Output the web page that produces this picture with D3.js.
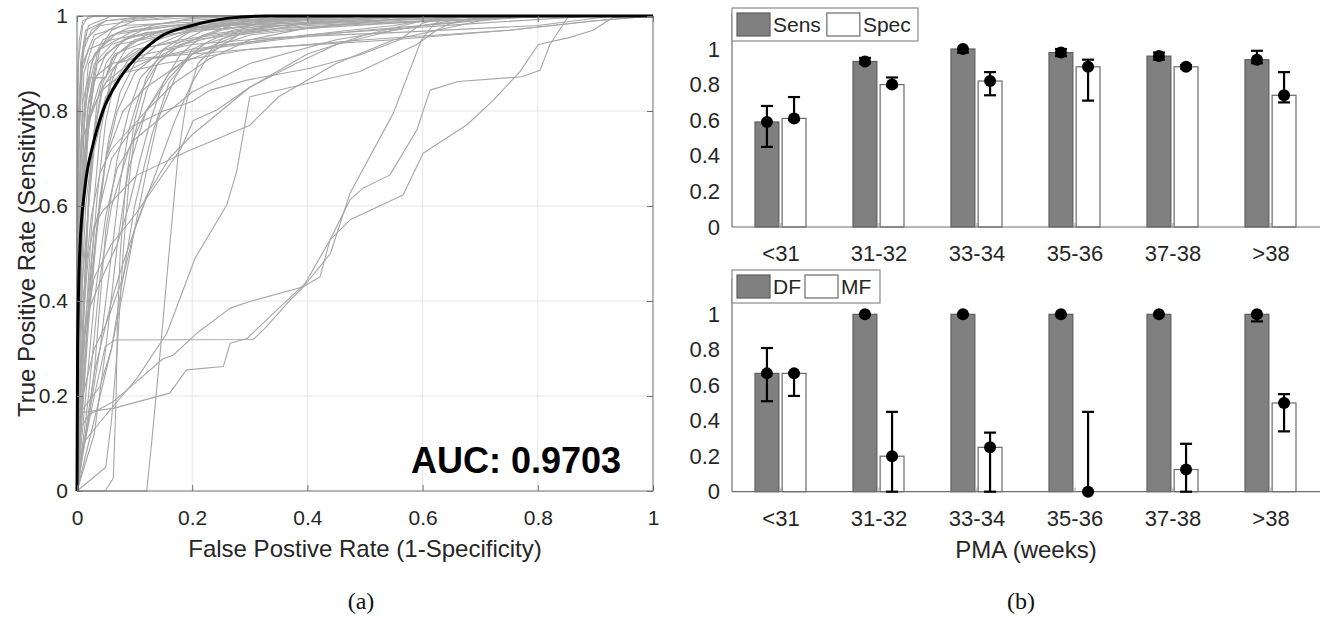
<!DOCTYPE html>
<html><head><meta charset="utf-8">
<script src="https://cdn.jsdelivr.net/npm/d3@7"></script>
<style>
body{margin:0;background:#fff;}
svg{display:block;font-family:"Liberation Sans",Arial,Helvetica,sans-serif;}
</style></head><body>
<svg id="fig" width="1326" height="618"></svg>
<script>
// ---------- ROC panel data ----------
const rocTicks = [0, 0.2, 0.4, 0.6, 0.8, 1];
const aucLabel = "AUC: 0.9703";

// averaged ROC curve [FPR, TPR]
const meanRoc = [[0,0],[0.001,0.3],[0.005,0.51],[0.014,0.64],[0.028,0.73],[0.045,0.8],[0.075,0.87],[0.104,0.914],[0.144,0.956],[0.2,0.98],[0.26,0.995],[0.33,1],[1,1]];

// individual recording ROC curves [FPR, TPR]
const rocCurves = [
  [[0,0],[0,0.55],[0.004,0.8],[0.01,0.93],[0.02,0.98],[0.06,1],[1,1]],
  [[0,0],[0,0.35],[0.006,0.7],[0.012,0.88],[0.03,0.95],[0.08,0.99],[0.15,1],[1,1]],
  [[0,0],[0.002,0.5],[0.008,0.75],[0.02,0.9],[0.06,0.96],[0.2,0.985],[0.45,1],[1,1]],
  [[0,0],[0,0.2],[0.01,0.55],[0.02,0.78],[0.035,0.9],[0.07,0.94],[0.2,0.97],[0.5,0.99],[0.7,1],[1,1]],
  [[0,0],[0.003,0.3],[0.012,0.62],[0.025,0.85],[0.04,0.93],[0.1,0.97],[0.25,0.99],[0.4,1],[1,1]],
  [[0,0],[0.005,0.4],[0.015,0.72],[0.03,0.87],[0.05,0.87],[0.065,0.92],[0.15,0.96],[0.3,0.98],[0.6,1],[1,1]],
  [[0,0],[0.01,0.25],[0.025,0.55],[0.04,0.75],[0.06,0.88],[0.09,0.94],[0.15,0.97],[0.3,0.99],[0.5,1],[1,1]],
  [[0,0],[0.002,0.6],[0.006,0.9],[0.015,0.97],[0.05,0.99],[0.12,1],[1,1]],
  [[0,0],[0.015,0.3],[0.03,0.5],[0.05,0.7],[0.07,0.8],[0.1,0.88],[0.15,0.93],[0.25,0.96],[0.4,0.98],[0.6,0.99],[0.85,1],[1,1]],
  [[0,0],[0.02,0.2],[0.04,0.45],[0.06,0.6],[0.09,0.72],[0.12,0.8],[0.16,0.87],[0.2,0.92],[0.3,0.96],[0.45,0.98],[0.6,1],[1,1]],
  [[0,0],[0.004,0.45],[0.01,0.68],[0.025,0.8],[0.05,0.86],[0.09,0.9],[0.2,0.93],[0.4,0.96],[0.7,0.985],[0.9,1],[1,1]],
  [[0,0],[0.008,0.15],[0.02,0.4],[0.035,0.62],[0.05,0.78],[0.065,0.86],[0.09,0.91],[0.14,0.95],[0.22,0.98],[0.32,1],[1,1]],
  [[0,0],[0.03,0.12],[0.05,0.3],[0.07,0.52],[0.09,0.68],[0.12,0.8],[0.16,0.88],[0.22,0.94],[0.3,0.97],[0.42,0.99],[0.55,1],[1,1]],
  [[0,0],[0.001,0.4],[0.004,0.65],[0.01,0.82],[0.03,0.92],[0.07,0.965],[0.15,0.98],[0.35,0.99],[0.62,1],[1,1]],
  [[0,0],[0.005,0.55],[0.012,0.75],[0.04,0.84],[0.08,0.88],[0.15,0.9],[0.3,0.93],[0.5,0.95],[0.75,0.97],[0.9,0.99],[1,1]],
  [[0,0],[0.01,0.35],[0.02,0.5],[0.03,0.56],[0.045,0.59],[0.104,0.665],[0.19,0.714],[0.3,0.77],[0.35,0.83],[0.45,0.9],[0.55,0.95],[0.7,0.99],[0.8,1],[1,1]],
  [[0,0],[0.02,0.1],[0.04,0.2],[0.06,0.3],[0.08,0.45],[0.1,0.6],[0.13,0.75],[0.16,0.86],[0.2,0.92],[0.28,0.96],[0.4,0.985],[0.6,1],[1,1]],
  [[0,0],[0,0.6],[0.003,0.8],[0.008,0.9],[0.015,0.95],[0.04,0.98],[0.1,0.99],[0.25,1],[1,1]],
  [[0,0],[0.01,0.45],[0.02,0.6],[0.03,0.72],[0.05,0.82],[0.07,0.9],[0.1,0.93],[0.2,0.95],[0.35,0.97],[0.55,0.985],[0.8,1],[1,1]],
  [[0,0],[0.006,0.18],[0.012,0.4],[0.02,0.62],[0.03,0.76],[0.045,0.86],[0.07,0.92],[0.12,0.96],[0.2,0.985],[0.28,1],[1,1]],
  [[0,0],[0.03,0.25],[0.06,0.4],[0.08,0.48],[0.1,0.55],[0.14,0.68],[0.17,0.78],[0.2,0.86],[0.23,0.92],[0.28,0.96],[0.36,0.99],[0.45,1],[1,1]],
  [[0,0],[0.121,0],[0.13,0.107],[0.145,0.3],[0.161,0.518],[0.175,0.7],[0.19,0.82],[0.21,0.9],[0.25,0.95],[0.3,0.98],[0.36,1],[1,1]],
  [[0,0],[0.049,0],[0.063,0.027],[0.068,0.2],[0.07,0.35],[0.075,0.5],[0.085,0.65],[0.1,0.78],[0.12,0.87],[0.15,0.93],[0.2,0.97],[0.3,0.99],[0.4,1],[1,1]],
  [[0,0],[0.01,0.08],[0.03,0.2],[0.049,0.304],[0.066,0.318],[0.306,0.319],[0.329,0.346],[0.37,0.402],[0.393,0.43],[0.422,0.451],[0.439,0.528],[0.474,0.613],[0.497,0.638],[0.543,0.665],[0.59,0.76],[0.613,0.844],[0.662,0.862],[0.772,0.872],[0.804,0.886],[0.821,0.94],[0.853,0.999],[1,1]],
  [[0,0],[0,0.164],[0.063,0.174],[0.161,0.206],[0.19,0.255],[0.254,0.262],[0.266,0.311],[0.295,0.321],[0.341,0.374],[0.396,0.437],[0.439,0.528],[0.474,0.571],[0.566,0.623],[0.601,0.711],[0.677,0.771],[0.723,0.823],[0.769,0.883],[0.801,0.94],[0.856,0.955],[0.896,0.97],[0.93,0.997],[1,1]],
  [[0,0],[0.005,0.13],[0.02,0.16],[0.063,0.188],[0.15,0.279],[0.167,0.286],[0.208,0.332],[0.266,0.385],[0.3,0.399],[0.393,0.43],[0.44,0.5],[0.474,0.627],[0.549,0.795],[0.598,0.95],[0.618,0.98],[0.636,0.996],[1,1]],
  [[0,0],[0.01,0.1],[0.05,0.16],[0.104,0.237],[0.156,0.332],[0.205,0.49],[0.26,0.602],[0.277,0.672],[0.3,0.83],[0.491,0.883],[0.59,0.94],[0.624,0.97],[0.648,0.984],[0.7,1],[1,1]],
  [[0,0],[0.01,0.3],[0.03,0.55],[0.06,0.7],[0.1,0.77],[0.15,0.8],[0.2,0.82],[0.231,0.844],[0.295,0.865],[0.405,0.89],[0.491,0.918],[0.56,0.95],[0.6,0.985],[0.65,1],[1,1]],
  [[0,0],[0.005,0.2],[0.015,0.35],[0.03,0.45],[0.06,0.52],[0.1,0.58],[0.14,0.65],[0.18,0.72],[0.202,0.78],[0.243,0.802],[0.3,0.85],[0.4,0.92],[0.5,0.96],[0.6,0.99],[0.7,1],[1,1]],
  [[0,0],[0.002,0.7],[0.008,0.88],[0.02,0.93],[0.06,0.95],[0.15,0.97],[0.3,0.985],[0.5,1],[1,1]],
  [[0,0],[0,0.8],[0.004,0.95],[0.01,0.99],[0.03,1],[1,1]],
  [[0,0],[0.001,0.3],[0.003,0.55],[0.008,0.72],[0.015,0.82],[0.03,0.9],[0.06,0.94],[0.12,0.965],[0.25,0.98],[0.5,0.99],[0.75,1],[1,1]],
  [[0,0],[0.015,0.5],[0.025,0.7],[0.035,0.82],[0.05,0.9],[0.08,0.95],[0.13,0.98],[0.2,0.995],[0.3,1],[1,1]],
  [[0,0],[0.02,0.35],[0.035,0.55],[0.05,0.7],[0.08,0.8],[0.12,0.85],[0.18,0.9],[0.26,0.94],[0.4,0.96],[0.55,0.98],[0.65,1],[1,1]],
  [[0,0],[0.001,0.15],[0.004,0.42],[0.008,0.65],[0.014,0.8],[0.025,0.9],[0.045,0.95],[0.09,0.975],[0.18,0.99],[0.35,1],[1,1]],
  [[0,0],[0.004,0.1],[0.012,0.25],[0.025,0.45],[0.04,0.62],[0.055,0.74],[0.075,0.84],[0.1,0.9],[0.14,0.94],[0.2,0.97],[0.33,0.99],[0.5,1],[1,1]],
  [[0,0],[0.008,0.6],[0.02,0.78],[0.04,0.86],[0.07,0.9],[0.12,0.92],[0.2,0.94],[0.35,0.955],[0.55,0.965],[0.8,0.98],[0.93,1],[1,1]],
  [[0,0],[0.003,0.5],[0.007,0.7],[0.015,0.8],[0.02,0.87],[0.05,0.87],[0.06,0.91],[0.1,0.95],[0.18,0.97],[0.3,0.99],[0.45,1],[1,1]],
  [[0,0],[0.01,0.2],[0.03,0.3],[0.05,0.35],[0.08,0.45],[0.1,0.55],[0.12,0.62],[0.16,0.7],[0.2,0.75],[0.25,0.8],[0.3,0.85],[0.38,0.9],[0.45,0.94],[0.55,0.97],[0.65,0.99],[0.75,1],[1,1]],
  [[0,0],[0.006,0.35],[0.015,0.6],[0.03,0.75],[0.05,0.83],[0.08,0.88],[0.13,0.91],[0.22,0.93],[0.35,0.95],[0.5,0.97],[0.65,0.985],[0.78,1],[1,1]],
  [[0,0],[0.002,0.25],[0.006,0.5],[0.012,0.7],[0.02,0.82],[0.035,0.92],[0.06,0.97],[0.1,0.99],[0.18,1],[1,1]],
  [[0,0],[0.04,0.3],[0.06,0.5],[0.075,0.65],[0.09,0.76],[0.11,0.84],[0.14,0.9],[0.18,0.94],[0.25,0.97],[0.35,0.99],[0.42,1],[1,1]],
  [[0,0],[0.005,0.05],[0.02,0.15],[0.03,0.25],[0.04,0.4],[0.05,0.55],[0.07,0.7],[0.09,0.8],[0.11,0.87],[0.15,0.92],[0.22,0.96],[0.35,0.98],[0.55,0.99],[0.7,1],[1,1]],
  [[0,0],[0.001,0.65],[0.005,0.85],[0.012,0.93],[0.025,0.97],[0.05,0.99],[0.15,1],[1,1]],
  [[0,0],[0.012,0.42],[0.025,0.58],[0.04,0.67],[0.06,0.72],[0.09,0.76],[0.12,0.8],[0.17,0.86],[0.23,0.91],[0.3,0.95],[0.4,0.975],[0.52,0.99],[0.62,1],[1,1]],
  [[0,0],[0.002,0.9],[0.01,0.98],[0.02,1],[1,1]],
  [[0,0],[0.003,0.2],[0.01,0.3],[0.02,0.38],[0.04,0.44],[0.07,0.52],[0.09,0.6],[0.11,0.7],[0.13,0.79],[0.15,0.86],[0.18,0.92],[0.22,0.96],[0.28,0.985],[0.34,1],[1,1]],
  [[0,0],[0.02,0.6],[0.03,0.75],[0.045,0.85],[0.07,0.9],[0.11,0.93],[0.18,0.95],[0.3,0.97],[0.45,0.98],[0.62,0.99],[0.82,1],[1,1]],
  [[0,0],[0.001,0.5],[0.004,0.75],[0.01,0.9],[0.03,0.96],[0.08,0.98],[0.25,0.99],[0.5,1],[1,1]],
  [[0,0],[0.05,0.05],[0.06,0.15],[0.07,0.3],[0.08,0.5],[0.09,0.65],[0.1,0.75],[0.12,0.84],[0.14,0.9],[0.17,0.94],[0.22,0.97],[0.3,0.99],[0.38,1],[1,1]],
  [[0,0],[0.003,0.16],[0.015,0.18],[0.04,0.22],[0.06,0.3],[0.08,0.42],[0.1,0.55],[0.12,0.67],[0.14,0.78],[0.17,0.87],[0.2,0.93],[0.27,0.97],[0.38,0.99],[0.5,1],[1,1]],
  [[0,0],[0.01,0.6],[0.018,0.8],[0.03,0.87],[0.06,0.9],[0.1,0.91],[0.2,0.92],[0.35,0.935],[0.55,0.95],[0.75,0.97],[0.9,0.99],[1,1]],
  [[0,0],[0.03,0.4],[0.05,0.58],[0.07,0.68],[0.1,0.74],[0.15,0.79],[0.2,0.84],[0.3,0.9],[0.45,0.95],[0.6,0.98],[0.75,1],[1,1]],
  [[0,0],[0.002,0.35],[0.008,0.6],[0.016,0.76],[0.03,0.86],[0.05,0.92],[0.09,0.955],[0.2,0.975],[0.4,0.99],[0.6,1],[1,1]]
];

// ---------- PMA bar panels data ----------
const pmaGroups = ["<31", "31-32", "33-34", "35-36", "37-38", ">38"];
const barTicks = [0, 0.2, 0.4, 0.6, 0.8, 1];

const sensValue = [0.59, 0.93, 1.00, 0.98, 0.96, 0.94];
const sensLow   = [0.45, 0.92, 0.98, 0.96, 0.94, 0.92];
const sensHigh  = [0.68, 0.95, 1.00, 1.00, 0.98, 0.99];
const specValue = [0.61, 0.80, 0.82, 0.90, 0.90, 0.74];
const specLow   = [0.60, 0.79, 0.74, 0.71, 0.89, 0.70];
const specHigh  = [0.73, 0.84, 0.87, 0.94, 0.91, 0.87];

const dfValue = [0.667, 1, 1, 1, 1, 1];
const dfLow   = [0.51, 1, 1, 1, 1, 0.96];
const dfHigh  = [0.81, 1, 1, 1, 1, 1];
const mfValue = [0.667, 0.2, 0.25, 0, 0.125, 0.5];
const mfLow   = [0.54, 0, 0, 0, 0, 0.34];
const mfHigh  = [0.667, 0.45, 0.333, 0.45, 0.27, 0.55];

// ---------- drawing ----------
const svg = d3.select("#fig");
const textCol = "#262626";
const axisCol = "#6f6f6f";
const fmt = d => String(+d.toFixed(1));

// ===== (a) ROC panel =====
const rx = d3.scaleLinear().domain([0, 1]).range([77, 653]);
const ry = d3.scaleLinear().domain([0, 1]).range([491, 16]);
const gA = svg.append("g");

gA.append("g").selectAll("line").data(rocTicks.slice(1, -1)).join("line")
  .attr("x1", d => rx(d)).attr("x2", d => rx(d)).attr("y1", ry(0)).attr("y2", ry(1))
  .attr("stroke", "#e6e6e6").attr("stroke-width", 1);
gA.append("g").selectAll("line").data(rocTicks.slice(1, -1)).join("line")
  .attr("y1", d => ry(d)).attr("y2", d => ry(d)).attr("x1", rx(0)).attr("x2", rx(1))
  .attr("stroke", "#e6e6e6").attr("stroke-width", 1);

const rocLine = d3.line().x(d => rx(d[0])).y(d => ry(d[1]));
gA.append("g").selectAll("path").data(rocCurves).join("path")
  .attr("d", rocLine).attr("fill", "none")
  .attr("stroke", "#a6a6a6").attr("stroke-width", 1.1).attr("stroke-linejoin", "round");

gA.append("rect").attr("x", rx(0)).attr("y", ry(1))
  .attr("width", rx(1) - rx(0)).attr("height", ry(0) - ry(1))
  .attr("fill", "none").attr("stroke", axisCol).attr("stroke-width", 1);

gA.append("path").datum(meanRoc)
  .attr("d", d3.line().x(d => rx(d[0])).y(d => ry(d[1])).curve(d3.curveMonotoneX))
  .attr("fill", "none").attr("stroke", "#000").attr("stroke-width", 3);

function styleAxis(g, showText, size) {
  g.select(".domain").remove();
  g.selectAll(".tick line").attr("stroke", axisCol);
  g.selectAll(".tick text").attr("fill", textCol).style("font-size", (size || 21) + "px")
    .style("font-family", '"Liberation Sans", Arial, sans-serif');
  if (!showText) g.selectAll(".tick text").remove();
}
gA.append("g").attr("transform", `translate(0,${ry(0)})`)
  .call(d3.axisBottom(rx).tickValues(rocTicks).tickFormat(fmt).tickSize(-6).tickPadding(19))
  .call(g => styleAxis(g, true));
gA.append("g").attr("transform", `translate(0,${ry(1)})`)
  .call(d3.axisTop(rx).tickValues(rocTicks).tickSize(-6))
  .call(g => styleAxis(g, false));
gA.append("g").attr("transform", `translate(${rx(0)},0)`)
  .call(d3.axisLeft(ry).tickValues(rocTicks).tickFormat(fmt).tickSize(-6).tickPadding(9))
  .call(g => styleAxis(g, true));
gA.append("g").attr("transform", `translate(${rx(1)},0)`)
  .call(d3.axisRight(ry).tickValues(rocTicks).tickSize(-6))
  .call(g => styleAxis(g, false));

gA.append("text").attr("x", (rx(0) + rx(1)) / 2).attr("y", 557)
  .attr("text-anchor", "middle").attr("fill", textCol).style("font-size", "24px")
  .text("False Postive Rate (1-Specificity)");
gA.append("text").attr("transform", `translate(35,${(ry(0) + ry(1)) / 2}) rotate(-90)`)
  .attr("text-anchor", "middle").attr("fill", textCol).style("font-size", "24px")
  .text("True Positive Rate (Sensitivity)");
gA.append("text").attr("x", 621).attr("y", 473).attr("text-anchor", "end")
  .attr("fill", "#000").style("font-size", "36px").style("font-weight", "bold")
  .text(aucLabel);

// ===== (b) PMA bar panels =====
const bx = d3.scaleBand().domain(pmaGroups).range([732, 1320]);
const series = ["a", "b"];
const bx1 = d3.scaleBand().domain(series).range([-26, 25]).paddingInner(0.12);

function drawPanel(zeroY, unitPx, names, vals, lows, highs, legendY, legendW, gap) {
  const y = d3.scaleLinear().domain([0, 1.2]).range([zeroY, zeroY - 1.2 * unitPx]);
  const g = svg.append("g");
  const rows = pmaGroups.map((p, i) => ({p, i}));
  const fills = ["#808080", "#ffffff"];
  const strokes = ["#5e5e5e", "#6a6a6a"];

  series.forEach((s, k) => {
    g.append("g").selectAll("rect").data(rows).join("rect")
      .attr("x", d => bx(d.p) + bx.bandwidth() / 2 + bx1(s))
      .attr("width", bx1.bandwidth())
      .attr("y", d => y(vals[k][d.i]))
      .attr("height", d => y(0) - y(vals[k][d.i]))
      .attr("fill", fills[k]).attr("stroke", strokes[k]).attr("stroke-width", 1.2);
  });

  // axis lines
  g.append("line").attr("x1", 732).attr("x2", 1320).attr("y1", y(0)).attr("y2", y(0))
    .attr("stroke", axisCol).attr("stroke-width", 1.2);
  g.append("line").attr("x1", 732).attr("x2", 732).attr("y1", y(0)).attr("y2", y(1.2))
    .attr("stroke", axisCol).attr("stroke-width", 1.2);
  g.append("g").selectAll("line").data(pmaGroups).join("line")
    .attr("x1", d => bx(d) + bx.bandwidth() / 2).attr("x2", d => bx(d) + bx.bandwidth() / 2)
    .attr("y1", y(0)).attr("y2", y(0) - 4).attr("stroke", "#9a9a9a");

  // error bars and markers
  series.forEach((s, k) => {
    const cx = d => bx(d.p) + bx.bandwidth() / 2 + bx1(s) + bx1.bandwidth() / 2;
    const eg = g.append("g").attr("stroke", "#000").attr("stroke-width", 2.2);
    eg.selectAll("line.v").data(rows).join("line").attr("class", "v")
      .attr("x1", cx).attr("x2", cx)
      .attr("y1", d => y(lows[k][d.i])).attr("y2", d => y(highs[k][d.i]));
    eg.selectAll("line.lo").data(rows).join("line").attr("class", "lo")
      .attr("x1", d => cx(d) - 6).attr("x2", d => cx(d) + 6)
      .attr("y1", d => y(lows[k][d.i])).attr("y2", d => y(lows[k][d.i]));
    eg.selectAll("line.hi").data(rows).join("line").attr("class", "hi")
      .attr("x1", d => cx(d) - 6).attr("x2", d => cx(d) + 6)
      .attr("y1", d => y(highs[k][d.i])).attr("y2", d => y(highs[k][d.i]));
    g.append("g").selectAll("circle").data(rows).join("circle")
      .attr("cx", cx).attr("cy", d => y(vals[k][d.i])).attr("r", 6).attr("fill", "#000");
  });

  // y tick labels
  g.append("g").attr("transform", "translate(732,0)")
    .call(d3.axisLeft(y).tickValues(barTicks).tickFormat(fmt).tickSize(0).tickPadding(12))
    .call(gg => styleAxis(gg, true, 22));

  // category labels
  g.append("g").selectAll("text").data(pmaGroups).join("text")
    .attr("x", d => bx(d) + bx.bandwidth() / 2).attr("y", y(0) + 34)
    .attr("text-anchor", "middle").attr("fill", textCol).style("font-size", "22px")
    .text(d => d);

  // legend
  const lg = g.append("g").attr("transform", `translate(732,${legendY})`);
  lg.append("rect").attr("width", legendW).attr("height", 33)
    .attr("fill", "#fff").attr("stroke", "#8a8a8a").attr("stroke-width", 1.2);
  let xo = 5;
  names.forEach((n, k) => {
    lg.append("rect").attr("x", xo).attr("y", 5).attr("width", 33).attr("height", 23)
      .attr("fill", fills[k]).attr("stroke", strokes[k]).attr("stroke-width", 1.2);
    const t = lg.append("text").attr("x", xo + 36).attr("y", 24).attr("fill", textCol)
      .style("font-size", "21px").text(n);
    xo += 36 + t.node().getComputedTextLength() + gap;
  });
  return y;
}

drawPanel(227, 178, ["Sens", "Spec"], [sensValue, specValue], [sensLow, specLow], [sensHigh, specHigh], 8, 186, 6);
drawPanel(491.7, 177.4, ["DF", "MF"], [dfValue, mfValue], [dfLow, mfLow], [dfHigh, mfHigh], 270, 148, 4);

svg.append("text").attr("x", 1026).attr("y", 558).attr("text-anchor", "middle")
  .attr("fill", textCol).style("font-size", "24px").text("PMA (weeks)");

// sub-figure captions
svg.append("text").attr("x", 361).attr("y", 609).attr("text-anchor", "middle")
  .style("font-family", '"Liberation Serif", "DejaVu Serif", serif').style("font-size", "24px")
  .attr("fill", "#111").text("(a)");
svg.append("text").attr("x", 1021).attr("y", 609).attr("text-anchor", "middle")
  .style("font-family", '"Liberation Serif", "DejaVu Serif", serif').style("font-size", "24px")
  .attr("fill", "#111").text("(b)");
</script>
</body></html>
